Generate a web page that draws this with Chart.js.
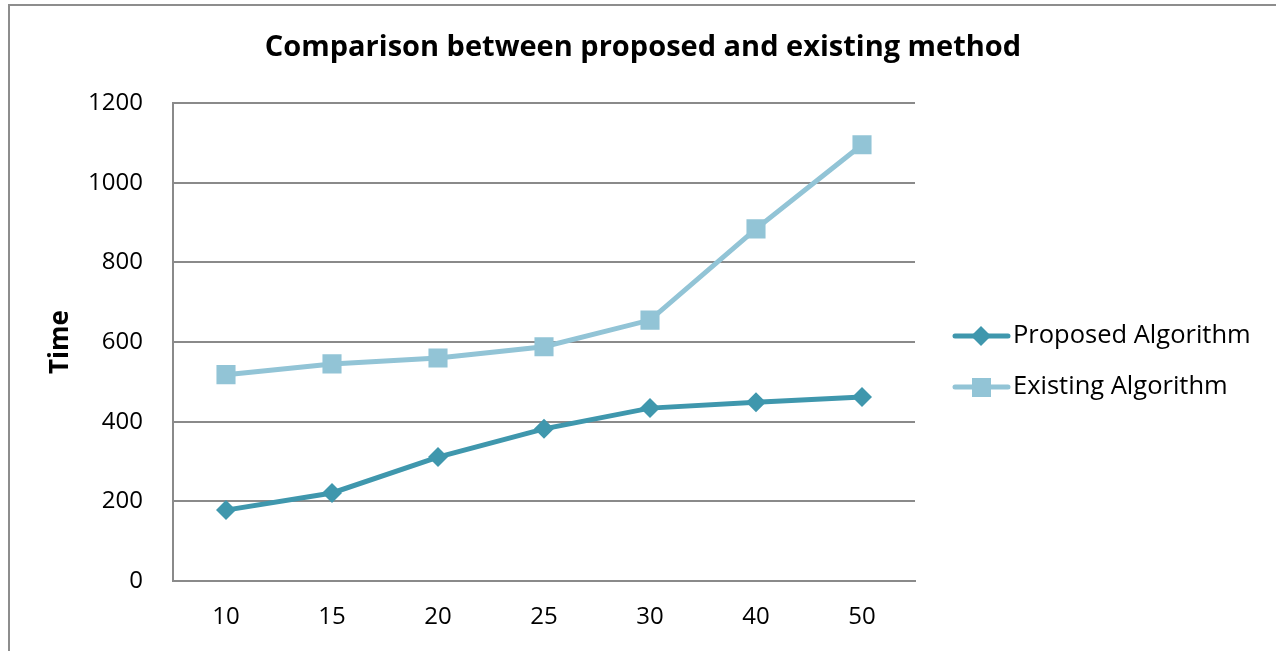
<!DOCTYPE html>
<html>
<head>
<meta charset="utf-8">
<script src="https://cdn.jsdelivr.net/npm/chart.js@4/dist/chart.umd.min.js"></script>
<style>
  body { margin: 0; background: #fff; overflow: hidden; }
  #wrap { position: relative; width: 1276px; height: 651px; }
  #frame { position: absolute; left: 8px; top: 4px; width: 1300px; height: 700px; border: 2px solid #8d8d8d; box-sizing: border-box; }
  canvas { position: absolute; left: 0; top: 0; }
</style>
</head>
<body>
<div id="wrap">
  <div id="frame"></div>
  <canvas id="timeChart" width="1276" height="651"></canvas>
</div>
<script>
// values
const categories = ['10', '15', '20', '25', '30', '40', '50'];
const proposedTimes = [178, 221, 311, 382, 434, 449, 462];
const existingTimes = [518, 545, 560, 588, 655, 884, 1095];
const yTicks = [0, 200, 400, 600, 800, 1000, 1200];

const chartTitle = 'Comparison between proposed and existing method';
const FONT = '"Open Sans", Lato, sans-serif';
const proposedColor = '#3f97ad';
const existingColor = '#92c4d6';
const gridColor = '#8a8a8a';

// title and line+marker legend, drawn like the office chart
const decorPlugin = {
    id: 'decor',
    afterDraw(chart) {
        const ctx = chart.ctx;
        ctx.save();
        ctx.fillStyle = '#000';
        ctx.font = 'bold 29px ' + FONT;
        ctx.textAlign = 'center';
        ctx.textBaseline = 'middle';
        ctx.fillText(chartTitle, 643, 48);

        const rows = [336, 387];
        chart.data.datasets.forEach((ds, i) => {
            const y = rows[i];
            ctx.strokeStyle = ds.borderColor;
            ctx.lineWidth = 5;
            ctx.lineCap = 'round';
            ctx.beginPath();
            ctx.moveTo(955, y);
            ctx.lineTo(1008, y);
            ctx.stroke();
            ctx.fillStyle = ds.backgroundColor;
            ctx.beginPath();
            if (ds.pointStyle === 'rectRot') {
                ctx.moveTo(981, y - 10);
                ctx.lineTo(991, y);
                ctx.lineTo(981, y + 10);
                ctx.lineTo(971, y);
            } else {
                ctx.rect(972, y - 9, 19, 19);
            }
            ctx.closePath();
            ctx.fill();
            ctx.fillStyle = '#000';
            ctx.font = '25.5px ' + FONT;
            ctx.textAlign = 'left';
            ctx.fillText(ds.label, 1013, y);
        });
        ctx.restore();
    }
};

new Chart(document.getElementById('timeChart'), {
    type: 'line',
    data: {
        labels: categories,
        datasets: [
            {
                label: 'Proposed Algorithm',
                data: proposedTimes,
                borderColor: proposedColor,
                backgroundColor: proposedColor,
                borderWidth: 5,
                pointStyle: 'rectRot',
                pointRadius: 10,
                pointBorderWidth: 0,
                tension: 0
            },
            {
                label: 'Existing Algorithm',
                data: existingTimes,
                borderColor: existingColor,
                backgroundColor: existingColor,
                borderWidth: 5,
                pointStyle: 'rect',
                pointRadius: 13.5,
                pointBorderWidth: 0,
                tension: 0
            }
        ]
    },
    options: {
        responsive: false,
        animation: false,
        layout: { padding: { left: 0, right: 361, top: 103, bottom: 0 } },
        plugins: {
            legend: { display: false },
            title: { display: false },
            tooltip: { enabled: false }
        },
        scales: {
            x: {
                offset: true,
                grid: { display: false, drawTicks: false },
                border: { display: true, color: gridColor, width: 2 },
                ticks: { color: '#000', font: { family: FONT, size: 24 }, padding: 22 },
                afterFit: s => { s.height = 70; }
            },
            y: {
                min: 0,
                max: 1200,
                afterBuildTicks: s => { s.ticks = yTicks.map(v => ({ value: v })); },
                grid: { color: gridColor, lineWidth: 2, drawTicks: false },
                border: { display: true, color: gridColor, width: 2 },
                ticks: {
                    color: '#000',
                    font: { family: FONT, size: 24 },
                    padding: 30,
                    callback: v => String(v)
                },
                title: {
                    display: true,
                    text: 'Time',
                    color: '#000',
                    font: { family: FONT, size: 26, weight: 'bold' },
                    padding: { top: 45, bottom: 0 }
                },
                afterFit: s => { s.width = 173; }
            }
        }
    },
    plugins: [decorPlugin]
});
</script>
</body>
</html>
